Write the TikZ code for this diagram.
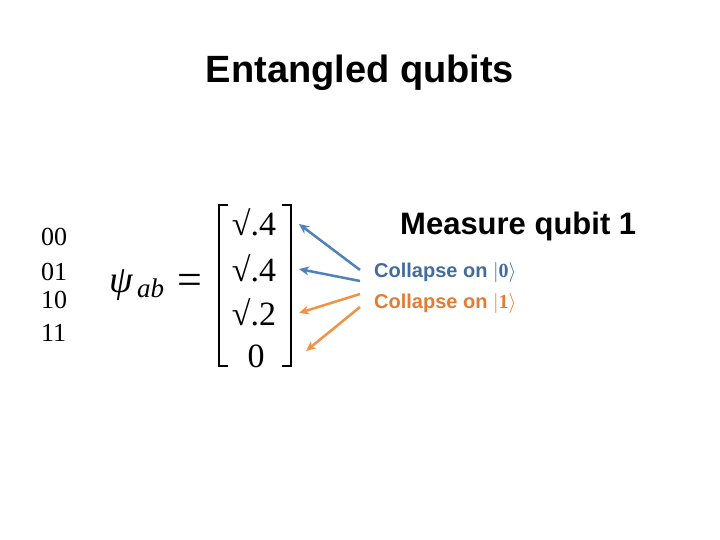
\documentclass[tikz,border=0pt]{standalone}
\usepackage{fix-cm}
\usepackage{amsmath}
\usepackage{fontspec}
\setmainfont{Liberation Serif}
\newfontfamily\sansf{Liberation Sans}
\usetikzlibrary{arrows.meta}
\definecolor{cblue}{RGB}{79,129,189}
\definecolor{cblueT}{RGB}{66,107,158}
\definecolor{corange}{RGB}{242,146,70}
\definecolor{corangeT}{RGB}{226,124,50}
\begin{document}
\begin{tikzpicture}[x=1pt,y=-1pt,
  lbl/.style={inner sep=0pt,anchor=base west,font=\fontsize{26}{28}\selectfont},
  entry/.style={inner sep=0pt,anchor=base,font=\fontsize{34}{36}\selectfont},
  brk/.style={line width=2.6pt},
  arr/.style={line width=2.5pt,-{Stealth[length=10pt,width=9pt]}},
  coll/.style={inner sep=0pt,anchor=base west,font=\sansf\bfseries\fontsize{20}{22}\selectfont}]
\useasboundingbox (0,0) rectangle (720,540);
\fill[white] (0,0) rectangle (720,540);
\node[inner sep=0pt,anchor=base,font=\sansf\bfseries\fontsize{38}{42}\selectfont] (title) at (360,83) {Entangled qubits};
\node[lbl] (l00) at (41,245) {00};
\node[lbl] (l01) at (41,280) {01};
\node[lbl] (l10) at (41,308) {10};
\node[lbl] (l11) at (41,341) {11};
\node[inner sep=0pt,anchor=base west,font=\itshape\fontsize{38}{40}\selectfont] (psi) at (109,292) {ψ};
\node[inner sep=0pt,anchor=base west,font=\itshape\fontsize{27}{29}\selectfont] (ab) at (137,297) {ab};
\node[inner sep=0pt,font=\fontsize{44}{46}\selectfont] (eq) at (190,284) {=};
\coordinate (lbt) at (219,205);
\coordinate (lbb) at (219,366);
\coordinate (rbt) at (291,205);
\coordinate (rbb) at (291,366);
\draw[brk] ([xshift=9pt]lbt) -- (lbt) -- (lbb) -- ([xshift=9pt]lbb);
\draw[brk] ([xshift=-9pt]rbt) -- (rbt) -- (rbb) -- ([xshift=-9pt]rbb);
\node[entry] (e1) at (254,236) {√.4};
\node[entry] (e2) at (254,281) {√.4};
\node[entry] (e3) at (254,325) {√.2};
\node[entry] (e4) at (256,367) {0};
\node[inner sep=0pt,anchor=base west,font=\sansf\bfseries\fontsize{31}{34}\selectfont] (meas) at (400,235) {Measure qubit 1};
\node[coll,text=cblueT] (c0) at (374,277) {Collapse on $|\mathbf{0}\rangle$};
\node[coll,text=corangeT] (c1) at (374,308) {Collapse on $|\mathbf{1}\rangle$};
\coordinate (t1) at (360,270); \coordinate (h1) at (299,224);
\coordinate (t2) at (360,281); \coordinate (h2) at (299,269);
\coordinate (t3) at (360,294); \coordinate (h3) at (299,313);
\coordinate (t4) at (360,307); \coordinate (h4) at (306,351);
\draw[arr,cblue] (t1) -- (h1);
\draw[arr,cblue] (t2) -- (h2);
\draw[arr,corange] (t3) -- (h3);
\draw[arr,corange] (t4) -- (h4);
\end{tikzpicture}
\end{document}
